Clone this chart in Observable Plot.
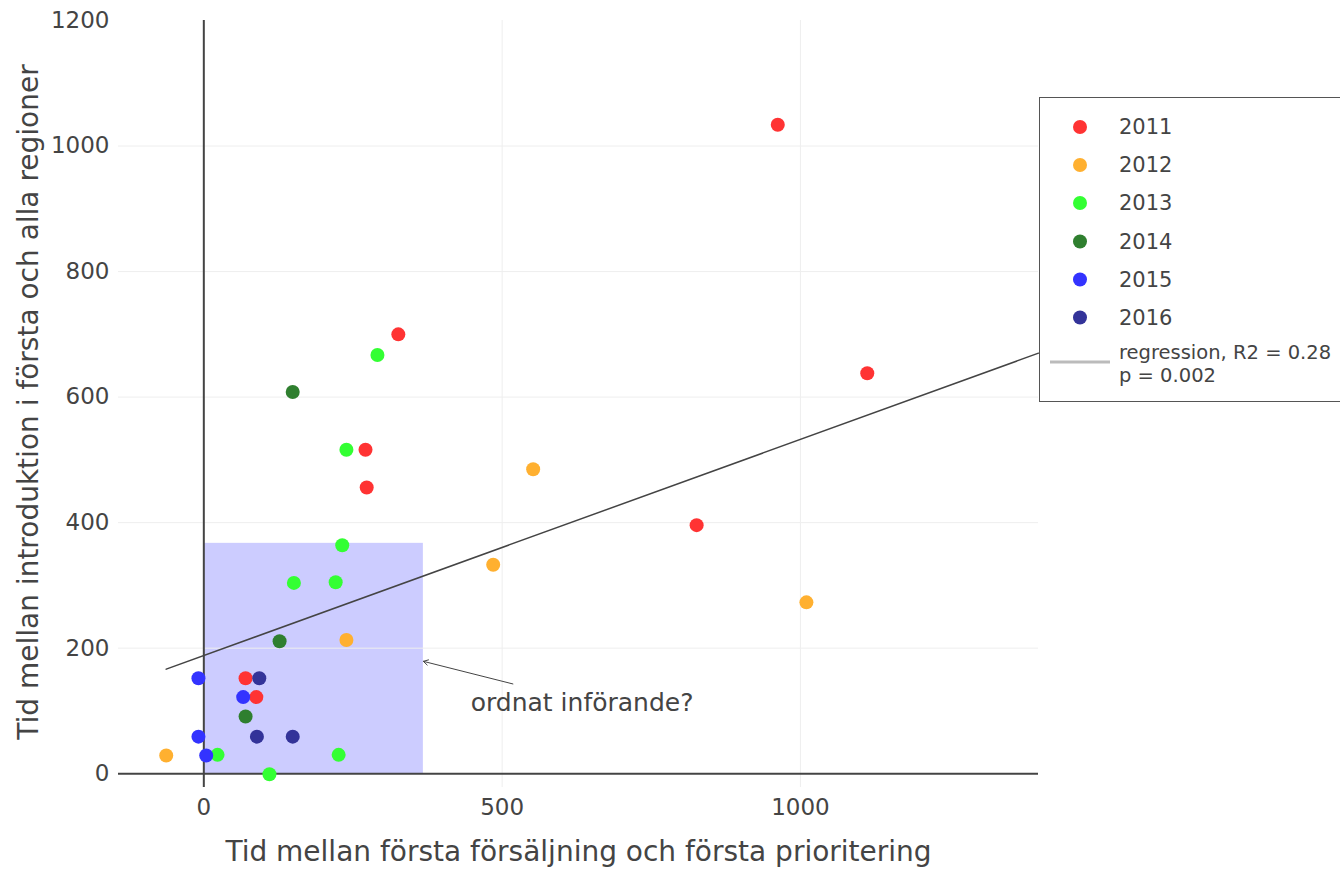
<!DOCTYPE html>
<html>
<head>
<meta charset="utf-8">
<script src="https://cdn.jsdelivr.net/npm/d3@7"></script>
<script src="https://cdn.jsdelivr.net/npm/@observablehq/plot@0.6"></script>
<style>
  html, body { margin: 0; padding: 0; background: #fff; }
  #chart { width: 1340px; height: 869px; overflow: hidden; }
</style>
</head>
<body>
<div id="chart"></div>
<script>
// ---- data ----
const years = ["2011", "2012", "2013", "2014", "2015", "2016"];
const yearColors = ["#ff3333", "#ffb030", "#33ff33", "#2f7f2f", "#3333ff", "#333399"];

const x2011 = [962, 1112, 826, 326, 271, 273, 70, 88];
const y2011 = [1034, 638, 396, 700, 516, 456, 152, 122];
const x2012 = [552, 485, 1010, 239, -63];
const y2012 = [485, 333, 273, 213, 29];
const x2013 = [291, 239, 232, 151, 221, 23, 226, 110];
const y2013 = [667, 516, 364, 304, 305, 30, 30, -1];
const x2014 = [149, 127, 70];
const y2014 = [608, 211, 91];
const x2015 = [-9, 66, -9, 4];
const y2015 = [152, 122, 59, 29];
const x2016 = [93, 89, 149];
const y2016 = [152, 59, 59];

// regression line end points
const regX = [-63, 1399];
const regY = [166.6, 670];
const regLabel = ["regression, R2 = 0.28", "p = 0.002"];

// shaded region "ordnat införande?"
const boxX = [0, 368];
const boxY = [0, 367];

// annotation
const annText = "ordnat införande?";
const annTail = [518, 143];
const annHead = [368, 179];
const annTextPos = [634, 112];

const xTicks = [0, 500, 1000];
const yTicks = [0, 200, 400, 600, 800, 1000, 1200];
const xTitle = "Tid mellan första försäljning och första prioritering";
const yTitle = "Tid mellan introduktion i första och alla regioner";

// ---- build table ----
const xs = [x2011, x2012, x2013, x2014, x2015, x2016];
const ys = [y2011, y2012, y2013, y2014, y2015, y2016];
const points = [];
years.forEach((yr, i) => xs[i].forEach((xv, j) => points.push({year: yr, x: xv, y: ys[i][j]})));
const regLine = regX.map((xv, i) => ({x: xv, y: regY[i]}));

const textColor = "#444";
const font = "DejaVu Sans, Verdana, sans-serif";
const fmt = d3.format("d");

const plot = Plot.plot({
  width: 1340,
  height: 869,
  marginLeft: 118,
  marginRight: 302,
  marginTop: 20,
  marginBottom: 82,
  style: {fontFamily: font, color: textColor, background: "#fff", overflow: "visible"},
  x: {domain: [-143, 1399]},
  y: {domain: [-22, 1200]},
  color: {domain: years, range: yearColors},
  marks: [
    Plot.rect([{}], {x1: boxX[0], x2: boxX[1], y1: boxY[0], y2: boxY[1], fill: "rgb(204,204,255)"}),
    Plot.gridY(yTicks.filter(t => t !== 0 && t !== 1200), {stroke: "#eee", strokeOpacity: 1, strokeWidth: 1}),
    Plot.gridX(xTicks.filter(t => t !== 0), {stroke: "#eee", strokeOpacity: 1, strokeWidth: 1}),
    Plot.axisX(xTicks, {tickSize: 0, tickPadding: 11, fontSize: 23, label: null, fill: textColor, tickFormat: fmt}),
    Plot.axisY(yTicks, {tickSize: 0, tickPadding: 9, fontSize: 23, label: null, fill: textColor, tickFormat: fmt}),
    Plot.ruleY([0], {stroke: "#444", strokeWidth: 2}),
    Plot.ruleX([0], {stroke: "#444", strokeWidth: 2}),
    Plot.line(regLine, {x: "x", y: "y", stroke: "#444", strokeWidth: 1.5}),
    Plot.dot(points, {x: "x", y: "y", fill: "year", r: 7, stroke: "none"}),
    Plot.arrow([{}], {x1: annTail[0], y1: annTail[1], x2: annHead[0], y2: annHead[1], stroke: "#444", strokeWidth: 1, headLength: 8, bend: 0}),
    Plot.text([annText], {x: annTextPos[0], y: annTextPos[1], fontSize: 25, fill: textColor}),
    Plot.text([xTitle], {frameAnchor: "bottom", textAnchor: "middle", lineAnchor: "middle", dy: 65, fontSize: 28, fill: textColor}),
    Plot.text([yTitle], {frameAnchor: "left", textAnchor: "middle", lineAnchor: "middle", dx: -89, dy: -2, rotate: -90, fontSize: 28, fill: textColor})
  ]
});

document.getElementById("chart").appendChild(plot);

// ---- legend ----
const svg = d3.select(plot);
const lg = svg.append("g").attr("font-family", font).attr("text-anchor", "start");
lg.append("rect")
  .attr("x", 1039.5).attr("y", 97.5).attr("width", 330).attr("height", 304)
  .attr("fill", "#fff").attr("stroke", "#555").attr("stroke-width", 1);
const rowY = [127, 165, 203, 241.5, 279.5, 317.5];
years.forEach((yr, i) => {
  lg.append("circle").attr("cx", 1080).attr("cy", rowY[i]).attr("r", 7).attr("fill", yearColors[i]);
  lg.append("text").attr("x", 1119).attr("y", rowY[i]).attr("dy", "0.35em")
    .attr("font-size", 21).attr("fill", textColor).text(yr);
});
lg.append("line").attr("x1", 1050).attr("x2", 1110).attr("y1", 362).attr("y2", 362)
  .attr("stroke", "#bbb").attr("stroke-width", 3);
lg.append("text").attr("x", 1119).attr("y", 352).attr("dy", "0.35em")
  .attr("font-size", 19.5).attr("fill", textColor).text(regLabel[0]);
lg.append("text").attr("x", 1119).attr("y", 375).attr("dy", "0.35em")
  .attr("font-size", 19.5).attr("fill", textColor).text(regLabel[1]);
</script>
</body>
</html>
